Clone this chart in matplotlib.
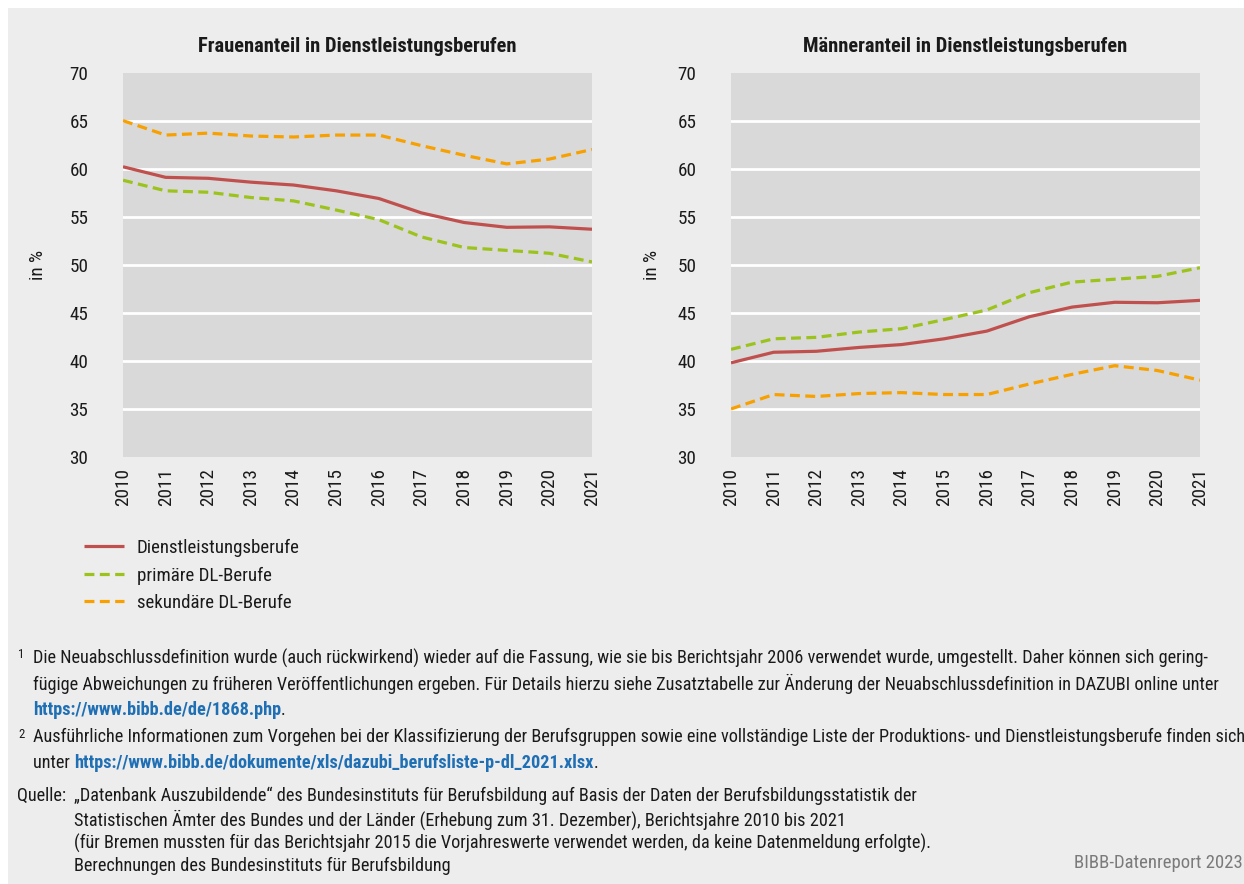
import matplotlib
matplotlib.use("Agg")
import matplotlib.pyplot as plt
from matplotlib import font_manager
from matplotlib.patches import Rectangle

# ---------------- data ----------------
years = [2010, 2011, 2012, 2013, 2014, 2015, 2016, 2017, 2018, 2019, 2020, 2021]

frauen_dl = [60.2, 59.1, 59.0, 58.6, 58.3, 57.7, 56.9, 55.4, 54.4, 53.9, 53.95, 53.7]
frauen_primaer = [58.8, 57.7, 57.55, 57.0, 56.65, 55.7, 54.7, 52.9, 51.8, 51.5, 51.2, 50.3]
frauen_sekundaer = [65.0, 63.5, 63.7, 63.4, 63.3, 63.5, 63.5, 62.4, 61.4, 60.5, 61.0, 62.0]

maenner_dl = [39.8, 40.9, 41.0, 41.4, 41.7, 42.3, 43.1, 44.6, 45.6, 46.1, 46.05, 46.3]
maenner_primaer = [41.2, 42.3, 42.45, 43.0, 43.35, 44.3, 45.3, 47.1, 48.2, 48.5, 48.8, 49.7]
maenner_sekundaer = [35.0, 36.5, 36.3, 36.6, 36.7, 36.5, 36.5, 37.6, 38.6, 39.5, 39.0, 38.0]

series_labels = ["Dienstleistungsberufe", "primäre DL-Berufe", "sekundäre DL-Berufe"]
titles = ["Frauenanteil in Dienstleistungsberufen", "Männeranteil in Dienstleistungsberufen"]
y_ticks = [30, 35, 40, 45, 50, 55, 60, 65, 70]
y_label = "in %"

# ---------------- fonts ----------------
fonts = font_manager.fontManager.ttflist
names = {f.name for f in fonts}
family = None
for cand in ["Roboto Condensed", "Liberation Sans Narrow", "Open Sans Condensed",
             "Fira Sans Condensed", "PT Sans Narrow", "Arial Narrow"]:
    if cand in names:
        family = cand
        break
if family is None:
    if any(f.name == "DejaVu Sans" and str(f.stretch) in ("condensed", "semi-condensed")
           for f in fonts):
        family = "DejaVu Sans"
        plt.rcParams["font.stretch"] = "condensed"
    else:
        family = "Liberation Sans"
plt.rcParams["font.family"] = [family, "DejaVu Sans"]

RED = "#c0504d"
GREEN = "#9bc31c"
ORANGE = "#f7a000"
PLOT_BG = "#d9d9d9"
FIG_BG = "#ededed"
TXT = "#1a1a1a"
LINK = "#1f6fb5"

W, H = 1244, 884
fig = plt.figure(figsize=(W / 100, H / 100), dpi=100, facecolor="white")
fig.patches.append(Rectangle((8 / W, 0), 1 - 8 / W, 1 - 8 / H, transform=fig.transFigure,
                             facecolor=FIG_BG, edgecolor="none", zorder=-10))
fig.canvas.draw()
renderer = fig.canvas.get_renderer()


def fit_size(s, target_px, weight="normal", base=20.0):
    t = fig.text(0, 0, s, fontsize=base, fontweight=weight)
    w = t.get_window_extent(renderer=renderer).width
    t.remove()
    return base * target_px / w


TICK_FS = min(fit_size("70", 19.0), fit_size("2010", 41))
TITLE_FS = fit_size(titles[0], 318, weight="bold")
LEG_FS = fit_size(series_labels[0], 163)
FOOT_FS = 0.5 * (fit_size("Die Neuabschlussdefinition wurde (auch rückwirkend) wieder auf die Fassung, wie sie bis Berichtsjahr 2006 verwendet wurde, umgestellt. Daher können sich gering-", 1182)
                 + fit_size("„Datenbank Auszubildende“ des Bundesinstituts für Berufsbildung auf Basis der Daten der Berufsbildungsstatistik der", 840))
BIBB_FS = fit_size("BIBB-Datenreport 2023", 169)


def px_axes(left, top, right, bottom):
    return fig.add_axes([left / W, 1 - bottom / H, (right - left) / W, (bottom - top) / H])


ax1 = px_axes(123, 72.6, 592, 457)
ax2 = px_axes(731, 72.6, 1200, 457)

data_sets = [
    (frauen_dl, frauen_primaer, frauen_sekundaer),
    (maenner_dl, maenner_primaer, maenner_sekundaer),
]
ylabel_offsets = [85, 79]

LW = 2.3
DASH = (3.1, 1.7)
handles = None
for ax, (dl, prim, sek), title, yoff in zip([ax1, ax2], data_sets, titles, ylabel_offsets):
    ax.set_facecolor(PLOT_BG)
    for s in ax.spines.values():
        s.set_visible(False)
    ax.set_xlim(years[0], years[-1])
    ax.set_ylim(30, 70)
    ax.set_yticks(y_ticks)
    ax.set_xticks(years)
    ax.set_xticklabels([str(y) for y in years], rotation=90)
    ax.tick_params(axis="both", length=0, labelsize=TICK_FS, colors=TXT)
    ax.tick_params(axis="y", pad=25)
    ax.tick_params(axis="x", pad=8)
    ax.grid(axis="y", color="white", linewidth=2)
    gl = ax.get_ygridlines()
    gl[0].set_visible(False)
    gl[-1].set_visible(False)
    ax.set_axisbelow(True)
    h1, = ax.plot(years, dl, color=RED, linewidth=LW, solid_capstyle="butt", zorder=3)
    h2, = ax.plot(years, prim, color=GREEN, linewidth=LW, dashes=DASH, zorder=3)
    h3, = ax.plot(years, sek, color=ORANGE, linewidth=LW, dashes=DASH, zorder=3)
    handles = [h1, h2, h3]
    ax.set_title(title, fontsize=TITLE_FS, fontweight="bold", color=TXT, pad=15)
    ax.set_ylabel(y_label, fontsize=TICK_FS, color=TXT, va="center")
    ax.yaxis.set_label_coords(-yoff / 469, 0.5)

# ---------------- legend ----------------
fs_px = LEG_FS * 100 / 72
leg = fig.legend(handles, series_labels, loc="upper left",
                 bbox_to_anchor=(84 / W, 1 - 539 / H), frameon=False,
                 fontsize=LEG_FS, handlelength=40 / fs_px, handletextpad=13 / fs_px,
                 labelspacing=0.5, borderaxespad=0, borderpad=0)
for t in leg.get_texts():
    t.set_color(TXT)


# ---------------- footnotes ----------------
def ftext(x, y, s, **kw):
    kw.setdefault("fontsize", FOOT_FS)
    kw.setdefault("color", TXT)
    return fig.text(x / W, 1 - y / H, s, va="center", ha="left", **kw)


def right_px(t):
    return t.get_window_extent(renderer=renderer).x1


ftext(18, 654, "1", fontsize=FOOT_FS * 0.7)
ftext(33, 658, "Die Neuabschlussdefinition wurde (auch rückwirkend) wieder auf die Fassung, wie sie bis Berichtsjahr 2006 verwendet wurde, umgestellt. Daher können sich gering-")
ftext(33, 684, "fügige Abweichungen zu früheren Veröffentlichungen ergeben. Für Details hierzu siehe Zusatztabelle zur Änderung der Neuabschlussdefinition in DAZUBI online unter")
l3 = ftext(33, 710, "https://www.bibb.de/de/1868.php", color=LINK, fontweight="bold")
ftext(right_px(l3), 710, ".")

ftext(18, 734, "2", fontsize=FOOT_FS * 0.7)
ftext(33, 737, "Ausführliche Informationen zum Vorgehen bei der Klassifizierung der Berufsgruppen sowie eine vollständige Liste der Produktions- und Dienstleistungsberufe finden sich")
u = ftext(33, 763, "unter ")
l5 = ftext(right_px(u), 763, "https://www.bibb.de/dokumente/xls/dazubi_berufsliste-p-dl_2021.xlsx", color=LINK, fontweight="bold")
ftext(right_px(l5), 763, ".")

ftext(17, 796, "Quelle:")
ftext(74, 796, "„Datenbank Auszubildende“ des Bundesinstituts für Berufsbildung auf Basis der Daten der Berufsbildungsstatistik der")
ftext(74, 820, "Statistischen Ämter des Bundes und der Länder (Erhebung zum 31. Dezember), Berichtsjahre 2010 bis 2021")
ftext(74, 843, "(für Bremen mussten für das Berichtsjahr 2015 die Vorjahreswerte verwendet werden, da keine Datenmeldung erfolgte).")
ftext(74, 866, "Berechnungen des Bundesinstituts für Berufsbildung")

fig.text(1243 / W, 1 - 863 / H, "BIBB-Datenreport 2023", ha="right", va="center",
         fontsize=BIBB_FS, color="#7a7a7a")

fig.savefig("out.png", dpi=100, facecolor=fig.get_facecolor())
